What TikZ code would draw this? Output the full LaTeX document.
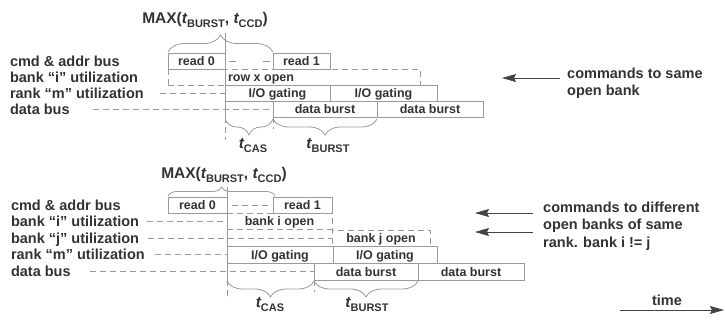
\documentclass[tikz,border=0pt]{standalone}
\usepackage{fontspec}
\setmainfont{Liberation Sans}
\usetikzlibrary{decorations.pathreplacing,arrows.meta}
\definecolor{ink}{HTML}{333333}
\definecolor{edge}{HTML}{9A9A9A}
\definecolor{ink2}{HTML}{444444}
% timing parameter: italic t with a lowered upright subscript
\newcommand\tq[1]{{\itshape t}\raisebox{-4.5pt}{\fontsize{11}{11}\selectfont #1}}

\begin{document}
\begin{tikzpicture}[x=1pt,y=1pt,
  lbl/.style={anchor=west, inner sep=0pt, outer sep=0pt, text=ink,
    font=\fontsize{14.5}{17}\selectfont\bfseries, text height=10pt, text depth=0pt},
  boxtxt/.style={inner sep=0pt, outer sep=0pt, anchor=north west, text=ink,
    font=\fontsize{12.5}{14}\selectfont\bfseries, text height=9pt, text depth=0pt,
    line width=0.8pt},
  slot/.style 2 args={boxtxt, draw=edge, fill=white,
    minimum width=#1pt, minimum height=#2pt},
  openbank/.style 2 args={boxtxt, draw=edge, dash pattern=on 6pt off 4pt,
    minimum width=#1pt, minimum height=#2pt},
  lead/.style={draw=edge, line width=0.8pt, dash pattern=on 6pt off 4pt},
  marker/.style={draw=edge, line width=0.8pt},
  braceup/.style={draw=edge, line width=0.8pt, decorate,
    decoration={brace, amplitude=#1}},
  bracedn/.style={draw=edge, line width=0.8pt, decorate,
    decoration={brace, mirror, amplitude=#1}},
  hint/.style={draw=ink2, line width=0.9pt,
    -{Stealth[length=14pt,width=8pt,inset=2pt]}},
  note/.style={anchor=north west, inner sep=0pt, align=left, text=ink,
    font=\fontsize{14.5}{17.3}\selectfont\bfseries},
  tlabel/.style={anchor=base, inner sep=0pt, text=ink,
    font=\fontsize{15.5}{17}\selectfont\bfseries},
]
\fill[white] (0,0) rectangle (725,-325);
\useasboundingbox (0,0) rectangle (725,-325);

%% ---------- same open bank ----------
\node[tlabel] (maxA) at (205,-23) {MAX(\tq{BURST}, \tq{CCD})};

\node[openbank={252}{16}] (bankA) at (168,-69) {};
\node[boxtxt, anchor=west] (bankAtxt) at (228,-77) {row x open};
\node[slot={57}{16}] (rA0) at (168,-53) {read 0};
\node[slot={57}{16}] (rA1) at (273,-53) {read 1};
\node[slot={105}{16}] (ioA1) at (225,-85) {I/O gating};
\node[slot={107}{16}] (ioA2) at (330,-85) {I/O gating};
\node[slot={104}{16}] (dbA1) at (273,-101) {data burst};
\node[slot={106}{16}] (dbA2) at (377,-101) {data burst};

\node[lbl] (cmdA) at (10,-61) {cmd \& addr bus};
\node[lbl] (bankAl) at (10,-77) {bank “i” utilization};
\node[lbl] (rankAl) at (10,-93) {rank “m” utilization};
\node[lbl] (dataAl) at (10,-109) {data bus};

\coordinate (rankAs) at (160,-93);
\coordinate (dataAs) at (93,-109);
\draw[lead] (rankAs) -- (ioA1.west);
\draw[lead] (dataAs) -- (dbA1.west);
\draw[edge, line width=0.8pt, dash pattern=on 7pt off 27pt,
  shorten <=4pt, shorten >=3pt] (rA0.east) -- (rA1.west);

\coordinate (mkA0) at (225,-33);
\coordinate (mkA1) at (225,-117);
\coordinate (mkA2) at (225,-140);
\draw[marker] (mkA0) -- (mkA1);
\draw[marker, dash pattern=on 6pt off 4pt] (mkA1) -- (mkA2);
\draw[marker, dash pattern=on 6pt off 4pt] (dbA1.south west) -- ++(0,-12);

\coordinate (tA0) at (168,-52);
\coordinate (tA1) at (273,-52);
\draw[braceup=17pt] (tA0) -- (tA1);

\coordinate (bA0) at (225,-119);
\coordinate (bA1) at (273,-119);
\coordinate (bA2) at (377,-119);
\draw[bracedn=16pt] (bA0) -- (bA1);
\draw[bracedn=16pt] (bA1) -- (bA2);
\node[tlabel] (tcasA) at (253,-148) {\tq{CAS}};
\node[tlabel] (tburA) at (328,-148) {\tq{BURST}};

\node[note] (noteA) at (567,-67.5) {commands to same\\open bank};
\coordinate (aAs) at (560,-78);
\coordinate (aAe) at (502,-78);
\draw[hint] (aAs) -- (aAe);

%% ---------- different banks of one rank ----------
\node[tlabel] (maxB) at (224,-178) {MAX(\tq{BURST}, \tq{CCD})};

\node[openbank={105}{16}] (bi) at (227,-213) {bank i open};
\node[openbank={98}{16}] (bj) at (332,-230) {bank j open};
\node[slot={59}{16}] (rB0) at (168,-197) {read 0};
\node[slot={59}{16}] (rB1) at (273,-197) {read 1};
\node[slot={106}{17}] (ioB1) at (227,-246) {I/O gating};
\node[slot={104}{17}] (ioB2) at (333,-246) {I/O gating};
\node[slot={104}{17}] (dbB1) at (314,-263) {data burst};
\node[slot={106}{17}] (dbB2) at (418,-263) {data burst};

\node[lbl] (cmdB) at (11,-205) {cmd \& addr bus};
\node[lbl] (bankBi) at (11,-221) {bank “i” utilization};
\node[lbl] (bankBj) at (11,-238) {bank “j” utilization};
\node[lbl] (rankB) at (11,-254.5) {rank “m” utilization};
\node[lbl] (dataB) at (11,-271.5) {data bus};

\coordinate (biS) at (147,-221);
\coordinate (bjS) at (148,-238);
\coordinate (rkS) at (155,-254.5);
\coordinate (dbS) at (90,-271.5);
\draw[lead] (biS) -- (bi.west);
\draw[lead] (bjS) -- (bj.west);
\draw[lead] (rkS) -- (ioB1.west);
\draw[lead] (dbS) -- (dbB1.west);
\draw[lead, shorten <=5pt, shorten >=5pt] (rB0.east) -- (rB1.west);

\coordinate (mkB0) at (227,-187);
\coordinate (mkB1) at (227,-280);
\coordinate (mkB2) at (227,-300);
\draw[marker] (mkB0) -- (mkB1);
\draw[marker, dash pattern=on 6pt off 4pt] (mkB1) -- (mkB2);
\draw[marker, dash pattern=on 6pt off 4pt] (dbB1.south west) -- ++(0,-12);

\coordinate (tB0) at (168,-196);
\coordinate (tB1) at (275,-196);
\draw[braceup=9pt] (tB0) -- (tB1);

\coordinate (bB0) at (227,-281);
\coordinate (bB1) at (314,-281);
\coordinate (bB2) at (418,-281);
\draw[bracedn=16pt] (bB0) -- (bB1);
\draw[bracedn=16pt] (bB1) -- (bB2);
\node[tlabel] (tcasB) at (270,-307) {\tq{CAS}};
\node[tlabel] (tburB) at (367,-307) {\tq{BURST}};

\node[note] (noteB) at (543,-201.8) {commands to different\\open banks of same\\rank. bank i != j};
\coordinate (aBs1) at (533,-213);
\coordinate (aBe1) at (475,-213);
\coordinate (aBs2) at (533,-232);
\coordinate (aBe2) at (475,-232);
\draw[hint] (aBs1) -- (aBe1);
\draw[hint] (aBs2) -- (aBe2);

%% ---------- time axis ----------
\node[lbl, anchor=center] (timeL) at (667,-300) {time};
\coordinate (tmS) at (620,-310);
\coordinate (tmE) at (724,-310);
\draw[hint] (tmS) -- (tmE);
\end{tikzpicture}
\end{document}
